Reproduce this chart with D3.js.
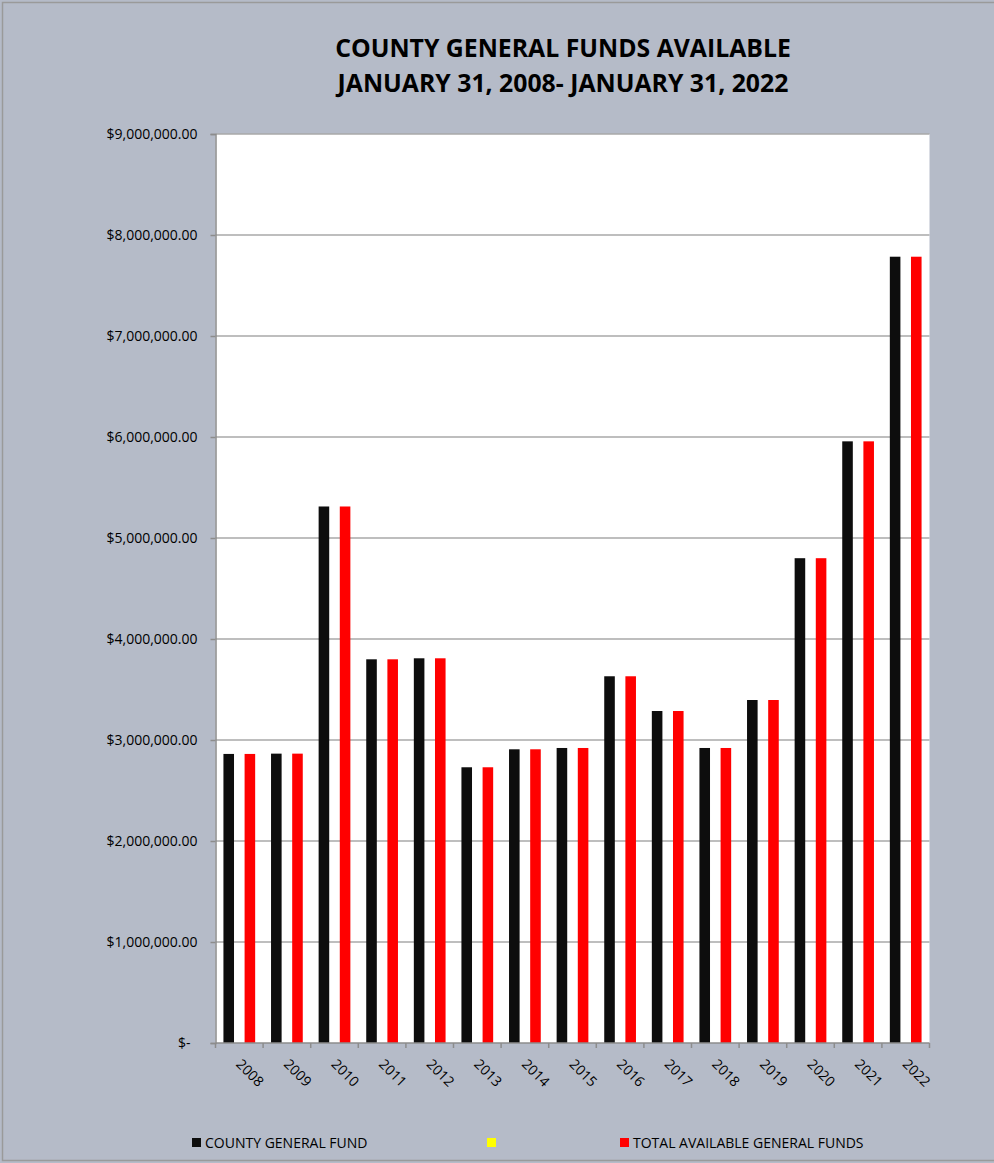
<!DOCTYPE html>
<html>
<head>
<meta charset="utf-8">
<script src="https://cdn.jsdelivr.net/npm/d3@7"></script>
<style>
  html, body { margin: 0; padding: 0; background: #b5bbc8; }
  svg { display: block; }
  text { font-family: "Open Sans", "Noto Sans", sans-serif; fill: #000; }
</style>
</head>
<body>
<svg id="chart" width="994" height="1163"></svg>
<script>
// ---- data ----
const years = ["2008","2009","2010","2011","2012","2013","2014","2015","2016","2017","2018","2019","2020","2021","2022"];
const seriesNames = ["COUNTY GENERAL FUND", "", "TOTAL AVAILABLE GENERAL FUNDS"];
const seriesColors = ["#0d0d0d", "#ffff00", "#ff0000"];
const countyGeneralFund = [2862000, 2865000, 5312000, 3799000, 3809000, 2730000, 2908000, 2921000, 3631000, 3287000, 2921000, 3396000, 4800000, 5957000, 7785000];
const emptySeries = [null, null, null, null, null, null, null, null, null, null, null, null, null, null, null];
const totalAvailable = [2862000, 2865000, 5312000, 3799000, 3809000, 2730000, 2908000, 2921000, 3631000, 3287000, 2921000, 3396000, 4800000, 5957000, 7785000];
const yTicks = [0, 1000000, 2000000, 3000000, 4000000, 5000000, 6000000, 7000000, 8000000, 9000000];
const titleLines = ["COUNTY GENERAL FUNDS AVAILABLE", "JANUARY 31, 2008- JANUARY 31, 2022"];

const seriesValues = [countyGeneralFund, emptySeries, totalAvailable];

const svg = d3.select("#chart");
const W = 994, H = 1163;
const plot = { left: 215.5, right: 929.5, top: 134, bottom: 1043 };

// background + frame
svg.append("rect").attr("x", 0).attr("y", 0).attr("width", W).attr("height", H).attr("fill", "#b5bbc8");
svg.append("rect").attr("x", 2.5).attr("y", 2.5).attr("width", W + 10).attr("height", H - 5)
  .attr("fill", "none").attr("stroke", "#9a9a9a").attr("stroke-width", 1.5);

// title
svg.selectAll("text.title").data(titleLines).join("text")
  .attr("class", "title")
  .attr("x", 563).attr("y", (d, i) => 57 + i * 35)
  .attr("text-anchor", "middle")
  .attr("font-weight", "bold")
  .attr("font-size", 24.8)
  .text(d => d);

// scales
const x0 = d3.scaleBand().domain(years).range([plot.left, plot.right]).paddingInner(0).paddingOuter(0);
const x1 = d3.scaleBand().domain(d3.range(seriesNames.length)).range([0, x0.bandwidth()]).paddingInner(0).paddingOuter(0.75);
const y = d3.scaleLinear().domain([0, 9000000]).range([plot.bottom, plot.top]);

// plot area
svg.append("rect").attr("x", plot.left).attr("y", plot.top)
  .attr("width", plot.right - plot.left).attr("height", plot.bottom - plot.top).attr("fill", "#ffffff");

// gridlines
svg.append("g").selectAll("line").data(yTicks.filter(t => t > 0)).join("line")
  .attr("x1", plot.left).attr("x2", plot.right)
  .attr("y1", d => y(d)).attr("y2", d => y(d))
  .attr("stroke", "#a8a8a8").attr("stroke-width", 1.5);

// bars
const barData = [];
seriesValues.forEach((vals, si) => vals.forEach((v, i) => { if (v != null) barData.push({ year: years[i], s: si, v }); }));
svg.append("g").selectAll("rect").data(barData).join("rect")
  .attr("x", d => x0(d.year) + x1(d.s))
  .attr("y", d => y(d.v))
  .attr("width", x1.bandwidth())
  .attr("height", d => y(0) - y(d.v))
  .attr("fill", d => seriesColors[d.s]);

// y axis
const fmt = d3.format(",.2f");
const yAxis = d3.axisLeft(y).tickValues(yTicks).tickSize(5).tickPadding(13)
  .tickFormat(d => d === 0 ? "$-" : "$" + fmt(d));
const gy = svg.append("g").attr("transform", `translate(${plot.left},0)`).call(yAxis);
gy.select(".domain").attr("stroke", "#8c8c8c").attr("stroke-width", 1.5);
gy.selectAll(".tick line").attr("stroke", "#8c8c8c").attr("stroke-width", 1.5);
gy.selectAll(".tick text").attr("font-size", 14).attr("fill", "#000")
  .attr("font-family", '"Open Sans", sans-serif')
  .attr("dx", d => d === 0 ? -7 : 0);

// x axis
const gx = svg.append("g").attr("transform", `translate(0,${plot.bottom})`);
gx.append("line").attr("x1", plot.left).attr("x2", plot.right).attr("y1", 0).attr("y2", 0)
  .attr("stroke", "#8c8c8c").attr("stroke-width", 1.5);
const boundaries = years.map(yr => x0(yr)).concat([x0(years[years.length - 1]) + x0.bandwidth()]);
gx.selectAll("line.tk").data(boundaries).join("line").attr("class", "tk")
  .attr("x1", d => d).attr("x2", d => d).attr("y1", 0).attr("y2", 5)
  .attr("stroke", "#8c8c8c").attr("stroke-width", 1.5);
gx.selectAll("text.xl").data(years).join("text").attr("class", "xl")
  .attr("transform", d => `translate(${x0(d) + x0.bandwidth() / 2 - 4},22) rotate(45)`)
  .attr("font-size", 14)
  .text(d => d);

// legend
const legendItems = [
  { name: seriesNames[0], color: seriesColors[0], x: 192 },
  { name: seriesNames[1], color: seriesColors[1], x: 487 },
  { name: seriesNames[2], color: seriesColors[2], x: 620 }
];
const lg = svg.append("g");
lg.selectAll("rect").data(legendItems).join("rect")
  .attr("x", d => d.x).attr("y", 1138).attr("width", 9).attr("height", 9)
  .attr("fill", d => d.color);
lg.selectAll("text").data(legendItems).join("text")
  .attr("x", d => d.x + 13).attr("y", 1147.5)
  .attr("font-size", 14)
  .text(d => d.name);
</script>
</body>
</html>
